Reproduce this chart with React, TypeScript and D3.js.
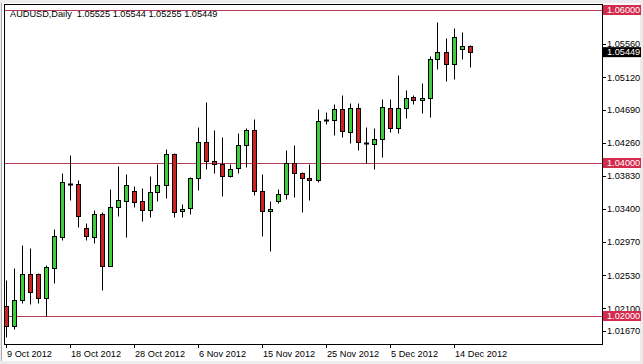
import React from "react";
import * as d3 from "d3";

// OHLC daily bars, AUDUSD, 9 Oct 2012 – 17 Dec 2012 (MT4 incl. Sunday bars)
const opens = [
  1.02131, 1.01869, 1.02209, 1.02549, 1.02549, 1.02235, 1.02627, 1.03033, 1.03725, 1.03725,
  1.0315, 1.03033, 1.03333, 1.02654, 1.03425, 1.03503, 1.03634, 1.03503, 1.03386, 1.03621,
  1.03712, 1.04118, 1.03373, 1.03412, 1.03804, 1.04275, 1.04026, 1.03987, 1.0383, 1.03935,
  1.04235, 1.04431, 1.03634, 1.03373, 1.03503, 1.03595, 1.04, 1.03869, 1.03804, 1.03778,
  1.04562, 1.04562, 1.04706, 1.04405, 1.04719, 1.04261, 1.04248, 1.04314, 1.04719, 1.04458,
  1.04719, 1.04863, 1.04824, 1.0485, 1.05359, 1.05451, 1.05294, 1.0549, 1.05525,
];
const highs = [
  1.02471, 1.02627, 1.02928, 1.02889, 1.02562, 1.02667, 1.03137, 1.03869, 1.04105, 1.03778,
  1.03216, 1.03386, 1.03359, 1.0366, 1.03961, 1.03856, 1.03699, 1.03673, 1.0383, 1.03987,
  1.04183, 1.04131, 1.03464, 1.03817, 1.04471, 1.04797, 1.04431, 1.0434, 1.03987, 1.04392,
  1.04458, 1.04575, 1.03856, 1.03503, 1.0366, 1.0417, 1.04235, 1.03882, 1.03987, 1.04706,
  1.04667, 1.04771, 1.04889, 1.04784, 1.04784, 1.04471, 1.04458, 1.04837, 1.04837, 1.0515,
  1.04954, 1.04889, 1.05046, 1.05399, 1.05843, 1.05634, 1.05765, 1.05712, 1.05544,
];
const lows = [
  1.01725, 1.0183, 1.0217, 1.02157, 1.0217, 1.02, 1.02431, 1.02993, 1.03516, 1.03163,
  1.02993, 1.02954, 1.0234, 1.02654, 1.03307, 1.03033, 1.03425, 1.03242, 1.03294, 1.03503,
  1.03542, 1.03294, 1.03294, 1.03333, 1.03647, 1.03922, 1.03869, 1.03569, 1.03817, 1.03869,
  1.03948, 1.03582, 1.03046, 1.0285, 1.03477, 1.03529, 1.03556, 1.03359, 1.03516, 1.03752,
  1.0451, 1.04366, 1.0434, 1.04261, 1.0417, 1.04, 1.03922, 1.04078, 1.04405, 1.04392,
  1.04588, 1.04771, 1.04654, 1.04601, 1.05229, 1.05072, 1.05098, 1.05359, 1.05255,
];
const closes = [
  1.01869, 1.02209, 1.02549, 1.02314, 1.02235, 1.02641, 1.03046, 1.03752, 1.03725, 1.03307,
  1.03046, 1.03333, 1.02654, 1.03425, 1.03516, 1.03712, 1.0349, 1.03386, 1.03621, 1.03712,
  1.04118, 1.03359, 1.03399, 1.03804, 1.04275, 1.04026, 1.03987, 1.0383, 1.03922, 1.04235,
  1.04431, 1.03634, 1.03373, 1.03399, 1.03595, 1.04, 1.03869, 1.03804, 1.03778, 1.04549,
  1.04562, 1.04706, 1.04418, 1.04719, 1.04275, 1.04261, 1.04314, 1.04732, 1.04458, 1.04719,
  1.0485, 1.04824, 1.0485, 1.05359, 1.05451, 1.05294, 1.05647, 1.05529, 1.05449,
];

const priceTicks = [1.0167, 1.021, 1.0253, 1.0297, 1.034, 1.0383, 1.0426, 1.0469, 1.0512, 1.0556];
const levelLines = [1.06, 1.04, 1.02];
const lastPrice = 1.05449;
const dateTickIndex = [0, 8, 16, 24, 32, 40, 48, 56];
const dateTickLabels = [
  "9 Oct 2012", "18 Oct 2012", "28 Oct 2012", "6 Nov 2012",
  "15 Nov 2012", "25 Nov 2012", "5 Dec 2012", "14 Dec 2012",
];
const title = "AUDUSD,Daily  1.05525 1.05544 1.05255 1.05449";

const W = 643;
const H = 364;
const plot = { left: 4, top: 4, right: 602, bottom: 344 };
const FONT = "'Liberation Sans', Arial, sans-serif";
const FS = 9.2;

export default function App() {
  const x = d3.scaleLinear().domain([0, 58]).range([5.5, 469.5]);
  const y = d3.scaleLinear().domain([1.02, 1.06]).range([316, 10]);
  const fmt = d3.format(".5f");
  const snap = (v: number) => Math.round(v) + 0.5;

  const bars = opens.map((o, i) => ({ o, h: highs[i], l: lows[i], c: closes[i], i }));

  return (
    <div style={{ position: "absolute", left: 0, top: 0 }}>
      <svg width={W} height={H} style={{ display: "block" }}>
        <rect x={0} y={0} width={W} height={H} fill="#ececec" />
        <rect x={2} y={3} width={638} height={358} fill="#ffffff" />
        <line x1={1.5} x2={1.5} y1={3} y2={361} stroke="#a8a8a8" />

        {/* level lines */}
        {levelLines.map((v) => (
          <line key={"lv" + v} x1={plot.left} x2={plot.right} y1={snap(y(v))} y2={snap(y(v))} stroke="#b53a55" strokeWidth={1} />
        ))}

        {/* candles */}
        {bars.map((b) => {
          const cx = snap(x(b.i));
          const top = snap(y(Math.max(b.o, b.c)));
          const bot = snap(y(Math.min(b.o, b.c)));
          const up = b.c > b.o;
          const flat = b.c === b.o;
          return (
            <g key={"c" + b.i}>
              <line x1={cx} x2={cx} y1={snap(y(b.h))} y2={snap(y(b.l))} stroke="#000" strokeWidth={1} />
              {flat ? (
                <rect x={cx - 2} y={top - 0.5} width={4} height={1} fill="#000" stroke="#000" strokeWidth={1} />
              ) : (
                <rect
                  x={cx - 2}
                  y={top}
                  width={4}
                  height={Math.max(1, bot - top)}
                  fill={up ? "#3bcf3b" : "#cc2222"}
                  stroke="#000"
                  strokeWidth={1}
                />
              )}
            </g>
          );
        })}

        {/* plot frame */}
        <rect x={plot.left + 0.5} y={plot.top + 0.5} width={plot.right - plot.left} height={plot.bottom - plot.top} fill="none" stroke="#000" strokeWidth={1} />

        {/* title */}
        <text x={10} y={16.5} fontFamily={FONT} fontSize={FS} fill="#000" style={{ whiteSpace: "pre" }} xmlSpace="preserve">
          {title}
        </text>

        {/* price axis ticks */}
        {priceTicks.map((v) => {
          const yy = Math.min(y(v), plot.bottom - 13);
          return (
            <g key={"pt" + v}>
              <line x1={plot.right + 0.5} x2={plot.right + 4} y1={snap(yy)} y2={snap(yy)} stroke="#000" />
              <text x={607} y={yy} dy="0.35em" fontFamily={FONT} fontSize={FS} fill="#000">
                {fmt(v)}
              </text>
            </g>
          );
        })}

        {/* level labels */}
        {levelLines.map((v) => (
          <g key={"ll" + v}>
            <rect x={603} y={y(v) - 5} width={38} height={10} fill="#d42a4c" />
            <text x={607} y={y(v)} dy="0.35em" fontFamily={FONT} fontSize={FS} fill="#ffffff">
              {fmt(v)}
            </text>
          </g>
        ))}

        {/* last price label */}
        <rect x={603} y={y(lastPrice) - 5} width={38} height={10} fill="#000" />
        <text x={607} y={y(lastPrice)} dy="0.35em" fontFamily={FONT} fontSize={FS} fill="#ffffff">
          {fmt(lastPrice)}
        </text>

        {/* date axis */}
        {dateTickIndex.map((idx, k) => {
          const tx = snap(x(idx));
          return (
            <g key={"dt" + idx}>
              <line x1={tx} x2={tx} y1={plot.bottom} y2={plot.bottom + 4} stroke="#000" />
              <text x={tx + 0.5} y={357} fontFamily={FONT} fontSize={FS} fill="#000">
                {dateTickLabels[k]}
              </text>
            </g>
          );
        })}
      </svg>
    </div>
  );
}
